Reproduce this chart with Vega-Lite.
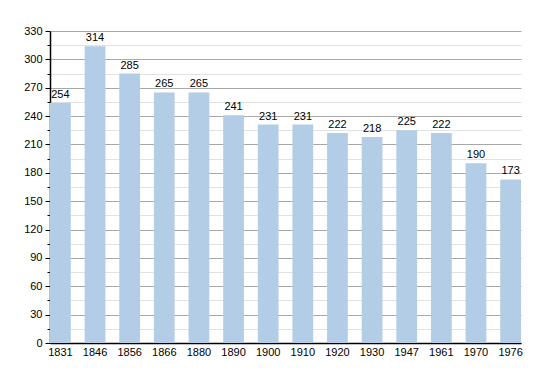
{
  "$schema": "https://vega.github.io/schema/vega-lite/v6.json",
  "autosize": "none",
  "width": 471,
  "height": 312,
  "padding": {"left": 50, "top": 31, "right": 29, "bottom": 30},
  "background": "white",
  "config": {"view": {"stroke": null}, "font": "Liberation Sans"},
  "data": {"values": [
    {"year": "1831", "pop": 254},
    {"year": "1846", "pop": 314},
    {"year": "1856", "pop": 285},
    {"year": "1866", "pop": 265},
    {"year": "1880", "pop": 265},
    {"year": "1890", "pop": 241},
    {"year": "1900", "pop": 231},
    {"year": "1910", "pop": 231},
    {"year": "1920", "pop": 222},
    {"year": "1930", "pop": 218},
    {"year": "1947", "pop": 225},
    {"year": "1961", "pop": 222},
    {"year": "1970", "pop": 190},
    {"year": "1976", "pop": 173}
  ]},
  "resolve": {"axis": {"y": "independent"}},
  "encoding": {
    "x": {"field": "year", "type": "nominal", "sort": null,
      "scale": {"paddingInner": 0.4, "paddingOuter": 0},
      "axis": {"title": null, "labelAngle": 0, "ticks": false, "domainColor": "#000", "domainWidth": 1.5,
        "labelColor": "#000", "labelFontSize": 11, "labelPadding": 3}}
  },
  "layer": [
    {
      "mark": {"type": "rule", "opacity": 0},
      "encoding": {
        "y": {"field": "pop", "type": "quantitative",
          "scale": {"domain": [0, 330], "nice": false, "zero": true},
          "axis": {"orient": "left", "title": null, "values": [15,45,75,105,135,165,195,225,255,285,315], "labels": false,
            "grid": true, "gridColor": "#e2e2e2", "gridWidth": 1, "tickSize": 3, "tickColor": "#000",
            "domain": false}}
      }
    },
    {
      "mark": {"type": "rule", "opacity": 0},
      "encoding": {
        "y": {"field": "pop", "type": "quantitative",
          "scale": {"domain": [0, 330], "nice": false, "zero": true},
          "axis": {"orient": "left", "title": null, "values": [0,30,60,90,120,150,180,210,240,270,300,330],
            "grid": true, "gridColor": "#a8a8a8", "gridWidth": 1, "tickSize": 5, "tickColor": "#000",
            "domain": true, "domainColor": "#000", "domainWidth": 1.5, "labelColor": "#000",
            "labelFontSize": 11, "labelPadding": 3}}
      }
    },
    {
      "mark": {"type": "bar", "color": "#b3cde6"},
      "encoding": {"y": {"field": "pop", "type": "quantitative", "scale": {"domain": [0, 330], "nice": false, "zero": true}, "axis": null}}
    },
    {
      "mark": {"type": "text", "baseline": "bottom", "dy": -3, "fontSize": 11, "color": "#000"},
      "encoding": {
        "y": {"field": "pop", "type": "quantitative", "scale": {"domain": [0, 330], "nice": false, "zero": true}, "axis": null},
        "text": {"field": "pop", "type": "quantitative"}
      }
    }
  ]
}
